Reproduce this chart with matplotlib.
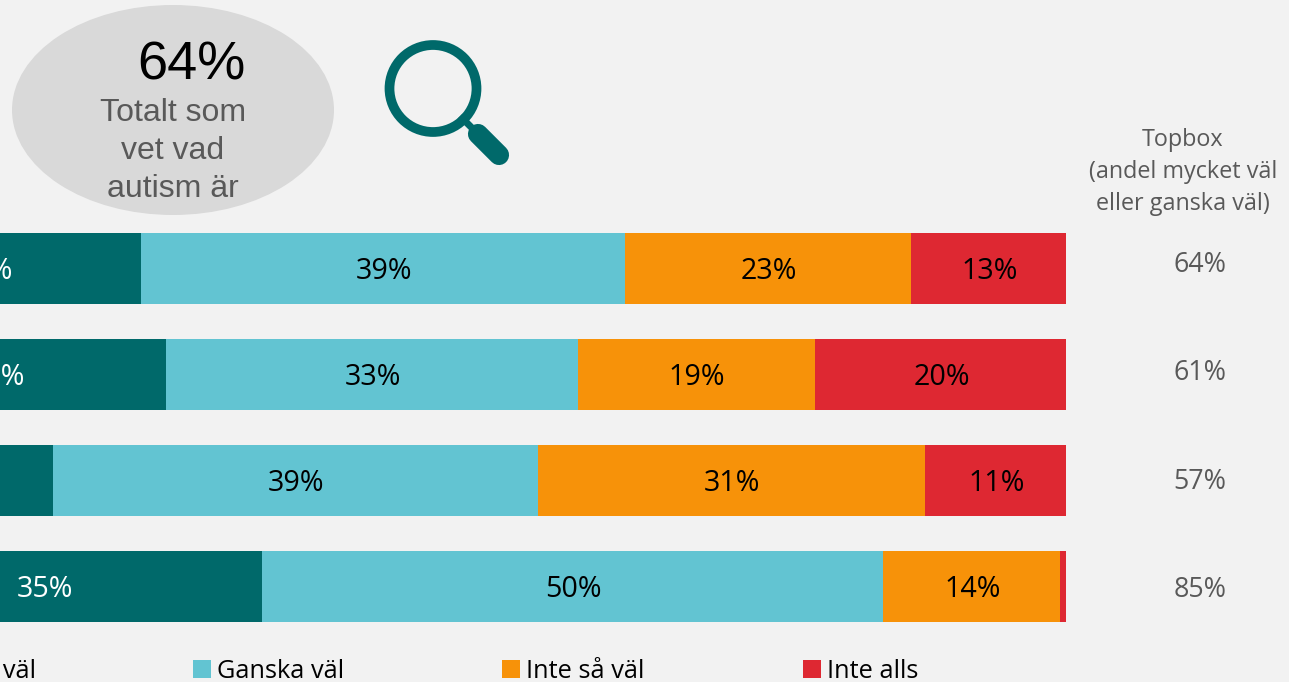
import matplotlib.pyplot as plt
from matplotlib.patches import Ellipse, Circle, Rectangle
from matplotlib.lines import Line2D

W, H = 1289, 682

mycket = [25.6, 27.6, 18.5, 35.3]
ganska = [38.9, 33.1, 39.0, 50.0]
inte_sa = [23.0, 19.1, 31.15, 14.2]
inte_alls = [12.5, 20.2, 11.35, 0.5]

mycket_labels = ['25%', '28%', '18%', '35%']
ganska_labels = ['39%', '33%', '39%', '50%']
inte_sa_labels = ['23%', '19%', '31%', '14%']
inte_alls_labels = ['13%', '20%', '11%', '']
topbox = ['64%', '61%', '57%', '85%']

colors = ['#00696A', '#62C4D2', '#F79209', '#DE2832']
legend_names = ['Mycket väl', 'Ganska väl', 'Inte så väl', 'Inte alls']

plt.rcParams['font.family'] = ['Open Sans', 'DejaVu Sans']

fig = plt.figure(figsize=(W / 100, H / 100), dpi=100, facecolor='#F2F2F2')

# overlay in pixel coordinates for the decorations
px = fig.add_axes([0, 0, 1, 1])
px.set_xlim(0, W)
px.set_ylim(H, 0)
px.axis('off')

# bar axes: 0-100% runs from x=-177 to x=1066 px, so it hangs off the left edge
x0, x1 = -177, 1066
ax = fig.add_axes([x0 / W, 0, (x1 - x0) / W, 1], facecolor='none')
ax.set_xlim(0, 100)
ax.set_ylim(H, 0)
ax.axis('off')

rows = [268.5, 374.5, 480.5, 586.5]
series = [mycket, ganska, inte_sa, inte_alls]
labels = [mycket_labels, ganska_labels, inte_sa_labels, inte_alls_labels]

left = [0, 0, 0, 0]
for s, (vals, labs) in enumerate(zip(series, labels)):
    ax.barh(rows, vals, left=left, height=71, color=colors[s], clip_on=False)
    # dark labels sit a little right of the segment centre
    nudge = 0.22 if s == 0 else 0.08
    for i in range(len(rows)):
        c = 'white' if s == 0 else 'black'
        ax.text(left[i] + vals[i] / 2 + nudge, rows[i] + 3, labs[i], color=c, fontsize=20.6,
                ha='center', va='center', clip_on=False)
        left[i] += vals[i]

# topbox column
head_y = [141, 173, 205]
head_lines = ['Topbox', '(andel mycket väl', 'eller ganska väl)']
for y, t in zip(head_y, head_lines):
    px.text(1183, y - 1, t, color='#595959', fontsize=16.8, ha='center', va='center')
topbox_y = [265, 373, 482, 590]
for y, t in zip(topbox_y, topbox):
    px.text(1200, y, t, color='#595959', fontsize=19.4, ha='center', va='center')

# bubble
px.add_patch(Ellipse((173, 110), 322, 210, color='#D9D9D9', lw=0))
px.text(191, 65, '64%', color='black', fontsize=39, family='Liberation Sans', ha='center', va='center')
for y, t in zip([113, 151, 189], ['Totalt som', 'vet vad', 'autism är']):
    px.text(173, y, t, color='#595959', fontsize=23, family='Liberation Sans', ha='center', va='center')

# magnifying glass
px.add_patch(Circle((433, 88.5), 43.5, fill=False, ec='#00696A', lw=7))
px.add_line(Line2D([460, 478], [116, 134], color='#00696A', lw=5, solid_capstyle='butt'))
px.add_line(Line2D([478, 499], [134, 155], color='#00696A', lw=14.5, solid_capstyle='round'))

# legend, first entry runs off the left edge
swatch_x = [-112, 193, 502, 803]
for x, name, c in zip(swatch_x, legend_names, colors):
    px.add_patch(Rectangle((x, 660), 17.5, 17.5, color=c, lw=0, clip_on=False))
    px.text(x + 24, 671, name, color='black', fontsize=18.3, ha='left', va='center', clip_on=False)

fig.savefig('out.png', dpi=100, facecolor=fig.get_facecolor())
